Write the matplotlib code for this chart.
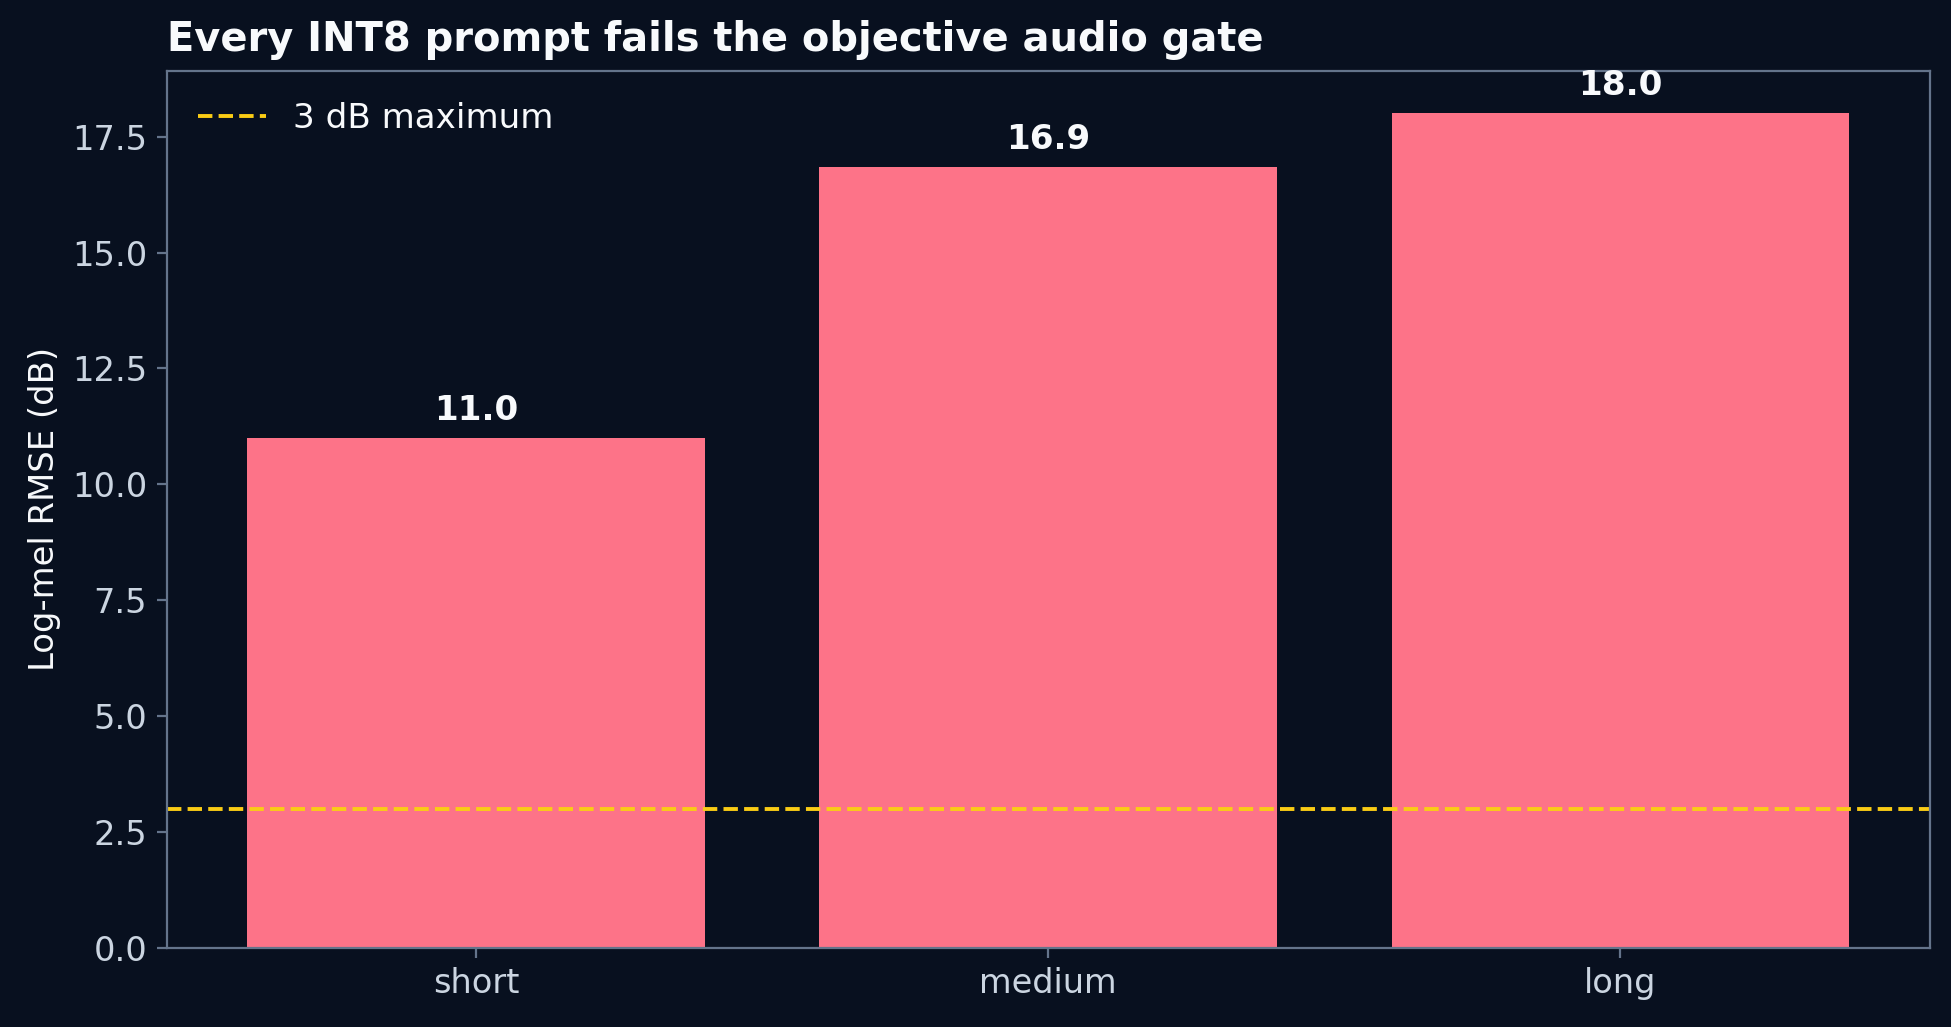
import matplotlib
matplotlib.use("Agg")
import matplotlib.pyplot as plt

categories = ["short", "medium", "long"]
values = [11.0, 16.85, 18.02]
value_labels = ["11.0", "16.9", "18.0"]
threshold = 3.0

BG = "#08101f"
BAR = "#fd7388"
SPINE = "#64748b"
TICK = "#cbd5e1"
TEXT = "#f8fafc"
GATE = "#facc15"

fig, ax = plt.subplots(figsize=(9.755, 5.135), dpi=200)
fig.patch.set_facecolor(BG)
ax.set_facecolor(BG)

bars = ax.bar(categories, values, width=0.8, color=BAR)
ax.axhline(threshold, color=GATE, linestyle="--", linewidth=1.4, label="3 dB maximum")

for b, lab in zip(bars, value_labels):
    ax.annotate(lab, (b.get_x() + b.get_width() / 2, b.get_height()),
                xytext=(0, 4), textcoords="offset points", ha="center", va="bottom",
                color=TEXT, fontsize=12.3, fontweight="bold")

ax.set_ylabel("Log-mel RMSE (dB)", color=TEXT, fontsize=12.2)
ax.set_title("Every INT8 prompt fails the objective audio gate", loc="left",
             color=TEXT, fontsize=14.4, fontweight="bold", pad=7)
for s in ax.spines.values():
    s.set_color(SPINE)
ax.tick_params(colors=SPINE, labelcolor=TICK, labelsize=12.1)
leg = ax.legend(loc="upper left", frameon=False, fontsize=12.3)
for t in leg.get_texts():
    t.set_color(TEXT)

fig.subplots_adjust(left=0.0855, right=0.989, top=0.931, bottom=0.077)
fig.savefig("out.png", dpi=200, facecolor=BG)
